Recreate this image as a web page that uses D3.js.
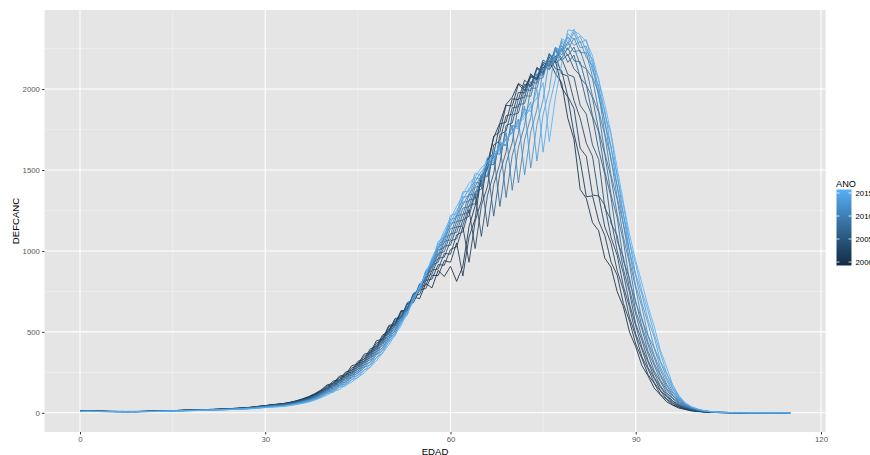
<!DOCTYPE html>
<html>
<head>
<meta charset="utf-8">
<script src="https://cdn.jsdelivr.net/npm/d3@7"></script>
<style>
  html, body { margin: 0; padding: 0; background: #ffffff; }
  svg { display: block; }
  text { font-family: "Liberation Sans", Arial, Helvetica, sans-serif; }
</style>
</head>
<body>
<svg id="chart" width="870" height="455"></svg>
<script>
// Cancer deaths (DEFCANC) by single year of age (EDAD 0..115), one line per year (ANO).
const years = [2000, 2001, 2002, 2003, 2004, 2005, 2006, 2007, 2008, 2009, 2010, 2011, 2012, 2013, 2014, 2015];

const defcanc2000 = [10,12,11,10,9,9,8,8,8,8,9,9,10,11,12,13,15,16,17,18,19,20,21,23,25,27,29,32,36,41,
  45,50,54,58,65,74,86,100,118,140, 172,183,226,236,291,300,362,372,445,455,
  540,548,632,628,716,705,800,772,880,842, 905,812,905,1150,1280,1445,1545,1700,1790,1905,
  1950,2035,2010,2075,2060,2130,2175,2095,2040,1820, 1690,1380,1325,1175,1125,955,900,748,655,498,
  408,292,228,152,110,68,47,29,21,12, 8,5,3,2,1,1,1,0,0,0, 0,0,0,0,0,0];
const defcanc2001 = [9,11,12,9,10,8,8,9,7,8,8,10,10,12,11,14,14,17,16,19,18,21,22,22,26,26,30,31,35,40,
  44,49,53,57,64,73,84,98,115,137, 155,197,202,252,262,318,330,395,410,480,
  505,582,592,672,680,760,768,850,848,940, 930,1050,845,1085,1200,1470,1505,1710,1735,1900,
  1895,2030,1990,2095,2055,2155,2120,2175,2010,1950, 1725,1560,1335,1340,1185,1095,932,850,676,566,
  425,336,236,182,114,82,49,35,22,14, 9,6,3,2,1,1,0,1,0,0, 0,0,0,0,0,0];
const defcanc2002 = [11,10,12,10,8,9,9,7,8,9,8,9,11,10,13,12,15,15,18,17,20,19,22,24,24,28,28,33,34,39,
  44,48,52,56,63,71,82,96,113,134, 166,175,219,228,278,290,349,364,431,450,
  530,545,625,640,722,732,818,826,915,912, 1010,1025,1150,930,1185,1310,1570,1600,1785,1795,
  1940,1935,2055,2020,2130,2090,2200,2125,2115,1955, 1880,1635,1585,1345,1340,1148,1048,878,760,588,
  474,346,270,186,135,85,59,37,25,16, 10,6,4,2,1,1,1,0,0,0, 0,0,0,0,0,0];
const defcanc2003 = [9,12,10,11,9,8,8,8,9,7,9,10,9,11,12,13,14,16,17,17,19,20,20,23,25,26,29,31,35,38,
  43,48,52,55,61,70,81,93,110,131, 148,186,195,242,251,308,318,384,398,472,
  495,572,590,676,690,778,788,882,888,985, 980,1100,1118,1255,1015,1280,1400,1655,1680,1835,
  1845,1980,1975,2085,2065,2165,2140,2205,2095,2080, 1930,1820,1665,1585,1340,1282,1085,972,782,652,
  486,392,279,213,140,99,61,43,27,17, 10,7,4,3,2,1,1,0,0,1, 0,0,0,0,0,0];
const defcanc2004 = [10,11,11,9,10,8,9,8,7,8,9,8,10,11,11,13,14,15,17,18,18,21,21,22,24,27,27,31,33,38,
  43,47,51,54,60,68,79,91,108,128, 158,167,209,219,266,279,335,352,418,441,
  518,542,620,645,735,752,838,858,955,962, 1062,1075,1190,1215,1350,1090,1345,1480,1720,1740,
  1885,1890,2030,2015,2135,2105,2215,2160,2190,2090, 2075,1900,1845,1655,1565,1265,1192,1000,860,672,
  538,404,314,219,160,104,71,45,30,19, 11,7,5,3,2,1,1,1,0,0, 0,0,0,0,0,0];
const defcanc2005 = [8,11,10,10,9,9,7,8,8,8,8,9,10,10,12,12,15,15,16,18,19,19,21,23,24,25,28,30,34,37,
  42,46,50,53,59,67,77,89,105,125, 142,178,188,232,242,295,309,370,390,462,
  488,565,585,680,702,795,812,912,930,1030, 1035,1148,1155,1280,1292,1435,1150,1410,1540,1775,
  1790,1940,1950,2080,2070,2180,2150,2240,2175,2215, 2125,2085,1925,1825,1625,1472,1170,1095,888,742,
  550,448,324,245,166,117,73,51,32,20, 12,8,5,3,2,1,1,0,1,0, 0,0,0,0,0,0];
const defcanc2006 = [9,10,11,9,8,9,8,7,8,7,9,9,9,11,11,13,14,16,16,17,18,20,20,22,23,26,27,29,33,36,
  41,45,49,52,58,66,75,87,102,122, 151,159,200,209,254,268,322,341,405,430,
  506,532,610,642,738,760,855,880,985,995, 1105,1115,1228,1240,1365,1382,1520,1215,1480,1612,
  1840,1852,2000,1990,2125,2100,2220,2170,2250,2165, 2210,2070,2025,1835,1735,1488,1332,1060,962,764,
  610,466,364,258,192,126,86,55,36,22, 14,9,6,3,2,1,1,1,0,0, 0,0,0,0,0,0];
const defcanc2007 = [10,11,9,10,9,8,8,8,7,8,8,9,10,10,12,12,14,15,17,16,18,19,21,21,24,25,26,30,32,36,
  40,44,48,51,57,64,73,85,100,119, 135,170,179,222,232,283,296,356,377,447,
  472,552,574,670,695,796,820,928,950,1058, 1068,1182,1190,1315,1322,1452,1460,1600,1275,1540,
  1670,1905,1910,2045,2035,2165,2145,2250,2190,2255, 2175,2168,2025,1945,1745,1595,1348,1205,938,832,
  630,516,380,293,202,143,91,63,39,25, 15,10,6,4,2,1,1,0,1,0, 0,0,0,0,0,0];
const defcanc2008 = [8,10,10,9,9,8,7,8,8,7,8,8,9,11,11,12,13,15,15,17,17,19,20,22,22,24,27,28,31,35,
  40,43,46,49,55,63,72,83,97,116, 144,151,191,199,243,255,310,327,391,416,
  490,518,598,632,728,758,864,895,1005,1022, 1138,1148,1265,1272,1395,1400,1530,1535,1670,1330,
  1590,1725,1960,1955,2095,2085,2215,2180,2270,2205, 2260,2150,2125,1955,1855,1605,1452,1225,1062,808,
  690,534,420,306,228,152,104,67,43,27, 17,10,7,4,3,2,1,1,0,0, 1,0,0,0,0,0];
const defcanc2009 = [9,11,10,9,8,8,8,7,7,8,8,9,9,10,11,13,13,14,16,16,18,18,20,21,23,24,25,28,31,34,
  39,42,45,48,54,61,70,81,95,113, 127,162,170,211,220,270,283,342,363,432,
  456,538,562,660,688,796,828,942,970,1085, 1098,1218,1225,1348,1350,1472,1468,1600,1598,1730,
  1375,1640,1775,2005,2005,2148,2140,2258,2210,2290, 2230,2240,2125,2065,1865,1715,1468,1318,1085,920,
  676,584,436,341,238,169,109,75,46,30, 18,11,7,5,3,2,1,1,0,0, 0,0,0,0,0,0];
const defcanc2010 = [8,10,9,10,8,8,7,7,8,7,8,8,9,10,10,12,13,14,15,16,17,18,19,20,22,23,25,27,30,34,
  38,41,44,47,53,60,68,79,92,110, 137,143,182,188,232,243,297,312,377,400,
  474,504,588,620,722,758,872,908,1025,1048, 1170,1180,1302,1305,1422,1420,1538,1532,1658,1652,
  1778,1420,1688,1825,2060,2070,2210,2190,2290,2240, 2315,2225,2225,2075,1975,1725,1572,1330,1165,938,
  770,574,476,355,264,178,122,80,50,32, 20,12,8,5,3,2,1,1,0,1, 0,0,0,0,0,0];
const defcanc2011 = [9,9,10,8,8,7,8,7,7,7,8,8,9,9,11,11,13,13,15,15,17,17,19,20,21,23,24,26,29,33,
  37,40,43,46,51,58,66,76,89,107, 125,148,166,193,216,249,277,318,356,405,
  450,512,562,635,696,782,850,938,1006,1088, 1150,1225,1282,1355,1400,1468,1508,1580,1620,1692,
  1735,1815,1470,1735,1875,2125,2125,2258,2228,2322, 2270,2295,2195,2145,1950,1805,1562,1402,1165,995,
  785,656,476,399,282,202,130,86,52,33, 21,12,8,5,3,2,1,1,1,0, 0,0,0,0,0,0];
const defcanc2012 = [8,10,9,9,8,8,7,7,7,7,7,8,8,10,10,12,12,14,14,16,16,18,18,20,21,22,24,26,28,32,
  35,39,41,44,50,56,64,74,86,103, 129,134,171,177,219,230,281,296,359,384,
  458,488,576,610,718,756,876,916,1042,1065, 1195,1205,1335,1335,1452,1442,1560,1545,1668,1652,
  1775,1765,1895,1512,1782,1935,2185,2180,2300,2270, 2350,2255,2265,2115,2020,1785,1645,1395,1225,995,
  845,678,552,402,316,218,146,90,55,34, 22,13,8,5,3,2,1,1,0,1, 0,0,0,0,0,0];
const defcanc2013 = [8,9,9,8,7,8,7,6,7,7,8,8,9,9,10,11,12,13,14,15,16,17,18,19,20,22,23,25,28,31,
  34,37,40,43,48,55,62,71,84,100, 117,139,156,182,203,234,261,300,338,388,
  434,497,550,626,692,782,852,948,1020,1105, 1175,1250,1315,1385,1428,1492,1528,1595,1628,1695,
  1730,1800,1842,1920,1555,1842,1995,2250,2238,2342, 2305,2325,2235,2185,1990,1865,1635,1468,1225,1055,
  856,732,576,468,318,244,154,97,57,36, 22,13,8,5,3,2,1,1,1,0, 0,0,0,0,0,0];
const defcanc2014 = [7,9,8,8,8,7,7,7,6,7,7,8,8,9,10,11,11,13,13,15,15,16,18,18,20,21,23,24,27,30,
  33,36,38,41,47,53,60,69,81,96, 121,126,160,166,206,215,265,280,341,367,
  442,474,564,602,714,757,880,927,1058,1085, 1220,1230,1366,1366,1480,1465,1580,1558,1676,1655,
  1772,1752,1875,1862,2000,1610,1898,2065,2312,2288, 2370,2285,2305,2155,2062,1845,1718,1458,1285,1055,
  918,752,630,488,368,245,171,100,60,37, 23,14,8,5,3,2,1,1,0,0, 1,0,0,0,0,0];
const defcanc2015 = [8,8,9,8,7,7,6,7,7,6,7,7,8,9,9,10,11,12,13,14,15,16,17,18,19,21,22,24,26,29,
  32,35,37,40,45,51,58,66,78,93, 109,131,144,171,190,220,245,284,320,371,
  418,482,538,618,688,782,856,958,1036,1125, 1200,1275,1346,1418,1458,1515,1548,1605,1636,1695,
  1728,1786,1822,1892,1945,2040,1675,1950,2155,2365, 2360,2335,2292,2205,2055,1905,1728,1512,1300,1100,
  940,802,658,532,386,283,170,107,62,38, 24,14,8,5,3,2,1,1,1,0, 0,0,0,0,0,0];

const seriesValues = [defcanc2000, defcanc2001, defcanc2002, defcanc2003, defcanc2004, defcanc2005,
  defcanc2006, defcanc2007, defcanc2008, defcanc2009, defcanc2010, defcanc2011, defcanc2012,
  defcanc2013, defcanc2014, defcanc2015];

const xTicks = [0, 30, 60, 90, 120];
const xMinor = [15, 45, 75, 105];
const yTicks = [0, 500, 1000, 1500, 2000];
const yMinor = [250, 750, 1250, 1750, 2250];
const legendTicks = [2000, 2005, 2010, 2015];

// ---- layout ----
const svg = d3.select("#chart");
const panel = { left: 44.5, right: 825.6, top: 10, bottom: 432 };

const series = years.map((yr, i) => ({
  year: yr,
  points: seriesValues[i].map((v, age) => ({ age: age, value: v }))
}));

const allPts = series.flatMap(s => s.points);
const xExt = d3.extent(allPts, d => d.age);
const yExt = d3.extent(allPts, d => d.value);
const xPad = (xExt[1] - xExt[0]) * 0.05;
const yPad = (yExt[1] - yExt[0]) * 0.05;

const x = d3.scaleLinear().domain([xExt[0] - xPad, xExt[1] + xPad]).range([panel.left, panel.right]);
const y = d3.scaleLinear().domain([yExt[0] - yPad, yExt[1] + yPad]).range([panel.bottom, panel.top]);

const color = d3.scaleLinear()
  .domain(d3.extent(years))
  .range(["#132B43", "#56B1F7"])
  .interpolate(d3.interpolateLab);

// panel background
svg.append("rect")
  .attr("x", panel.left).attr("y", panel.top)
  .attr("width", panel.right - panel.left).attr("height", panel.bottom - panel.top)
  .attr("fill", "#E5E5E5");

// grid lines
const grid = svg.append("g");
grid.selectAll("line.ymin").data(yMinor).join("line")
  .attr("x1", panel.left).attr("x2", panel.right)
  .attr("y1", d => y(d)).attr("y2", d => y(d))
  .attr("stroke", "#F2F2F2").attr("stroke-width", 0.6);
grid.selectAll("line.xmin").data(xMinor).join("line")
  .attr("y1", panel.top).attr("y2", panel.bottom)
  .attr("x1", d => x(d)).attr("x2", d => x(d))
  .attr("stroke", "#F2F2F2").attr("stroke-width", 0.6);
grid.selectAll("line.ymaj").data(yTicks).join("line")
  .attr("x1", panel.left).attr("x2", panel.right)
  .attr("y1", d => y(d)).attr("y2", d => y(d))
  .attr("stroke", "#ffffff").attr("stroke-width", 1.1);
grid.selectAll("line.xmaj").data(xTicks).join("line")
  .attr("y1", panel.top).attr("y2", panel.bottom)
  .attr("x1", d => x(d)).attr("x2", d => x(d))
  .attr("stroke", "#ffffff").attr("stroke-width", 1.1);

// lines, one per year, drawn oldest first
const line = d3.line().x(d => x(d.age)).y(d => y(d.value));
svg.append("g").selectAll("path").data(series).join("path")
  .attr("d", d => line(d.points))
  .attr("fill", "none")
  .attr("stroke", d => color(d.year))
  .attr("stroke-width", 0.85)
  .attr("stroke-linejoin", "round");

// axes
const xAxis = d3.axisBottom(x).tickValues(xTicks).tickSize(2.4).tickPadding(2.2).tickFormat(d3.format("d"));
const yAxis = d3.axisLeft(y).tickValues(yTicks).tickSize(2.4).tickPadding(2.2).tickFormat(d3.format("d"));

const gx = svg.append("g").attr("transform", `translate(0,${panel.bottom})`).call(xAxis);
const gy = svg.append("g").attr("transform", `translate(${panel.left},0)`).call(yAxis);
[gx, gy].forEach(g => {
  g.select(".domain").remove();
  g.selectAll(".tick line").attr("stroke", "#333333").attr("stroke-width", 1);
  g.selectAll(".tick text").attr("fill", "#595959").attr("font-size", "7.8px")
    .attr("font-family", "'Liberation Sans', Arial, sans-serif");
});

// axis titles
svg.append("text")
  .attr("x", (panel.left + panel.right) / 2).attr("y", 454.5)
  .attr("text-anchor", "middle").attr("font-size", "9.6px").attr("fill", "#000000")
  .text("EDAD");
svg.append("text")
  .attr("transform", `translate(18.5,${(panel.top + panel.bottom) / 2}) rotate(-90)`)
  .attr("text-anchor", "middle").attr("font-size", "9.6px").attr("fill", "#000000")
  .text("DEFCANC");

// colour bar legend
const bar = { left: 836.5, width: 15, top: 189.5, bottom: 265.5 };
const legendY = d3.scaleLinear().domain(d3.extent(years)).range([262, 193]);

const defs = svg.append("defs");
const grad = defs.append("linearGradient").attr("id", "anoGrad")
  .attr("x1", 0).attr("y1", 1).attr("x2", 0).attr("y2", 0);
d3.range(0, 1.0001, 0.1).forEach(t => {
  grad.append("stop").attr("offset", t)
    .attr("stop-color", color(years[0] + t * (years[years.length - 1] - years[0])));
});

svg.append("text")
  .attr("x", 836).attr("y", 187)
  .attr("font-size", "9.2px").attr("fill", "#000000")
  .text("ANO");

svg.append("rect")
  .attr("x", bar.left).attr("y", bar.top)
  .attr("width", bar.width).attr("height", bar.bottom - bar.top)
  .attr("fill", "url(#anoGrad)");

const lt = svg.append("g");
lt.selectAll("line.l").data(legendTicks).join("line")
  .attr("x1", bar.left).attr("x2", bar.left + 3)
  .attr("y1", d => legendY(d)).attr("y2", d => legendY(d))
  .attr("stroke", "#ffffff").attr("stroke-width", 0.8);
lt.selectAll("line.r").data(legendTicks).join("line")
  .attr("x1", bar.left + bar.width - 3).attr("x2", bar.left + bar.width)
  .attr("y1", d => legendY(d)).attr("y2", d => legendY(d))
  .attr("stroke", "#ffffff").attr("stroke-width", 0.8);
lt.selectAll("text").data(legendTicks).join("text")
  .attr("x", 855.5).attr("y", d => legendY(d)).attr("dy", "0.35em")
  .attr("font-size", "7.8px").attr("fill", "#000000")
  .text(d => d);
</script>
</body>
</html>
